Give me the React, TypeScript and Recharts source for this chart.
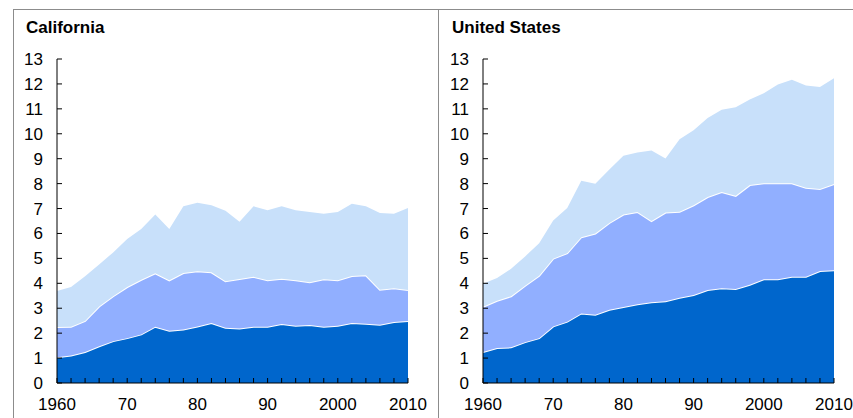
import { Area, AreaChart, XAxis, YAxis } from "recharts";

const years = [
  1960, 1962, 1964, 1966, 1968, 1970, 1972, 1974, 1976, 1978, 1980, 1982, 1984,
  1986, 1988, 1990, 1992, 1994, 1996, 1998, 2000, 2002, 2004, 2006, 2008, 2010,
];

// California, layer values (stacked bottom -> top)
const caBase = [
  1.03, 1.1, 1.24, 1.47, 1.68, 1.8, 1.95, 2.26, 2.1, 2.15, 2.27, 2.41, 2.22,
  2.19, 2.26, 2.26, 2.37, 2.3, 2.33, 2.26, 2.3, 2.41, 2.38, 2.34, 2.45, 2.49,
];
const caMid = [
  1.22, 1.16, 1.25, 1.6, 1.8, 2.05, 2.19, 2.14, 2.02, 2.26, 2.21, 2.03, 1.86,
  1.98, 2.0, 1.86, 1.81, 1.82, 1.71, 1.9, 1.82, 1.88, 1.94, 1.4, 1.35, 1.24,
];
const caTop = [
  1.44, 1.59, 1.79, 1.68, 1.76, 1.93, 2.04, 2.36, 2.06, 2.68, 2.75, 2.69, 2.83,
  2.3, 2.83, 2.81, 2.91, 2.81, 2.82, 2.63, 2.74, 2.9, 2.77, 3.08, 2.99, 3.29,
];

// United States
const usBase = [
  1.24, 1.4, 1.43, 1.64, 1.8, 2.27, 2.46, 2.79, 2.74, 2.94, 3.05, 3.16, 3.24,
  3.28, 3.42, 3.53, 3.73, 3.8, 3.77, 3.94, 4.16, 4.16, 4.26, 4.26, 4.49, 4.52,
];
const usMid = [
  1.82, 1.9, 2.05, 2.26, 2.5, 2.72, 2.75, 3.06, 3.26, 3.48, 3.71, 3.7, 3.26,
  3.56, 3.45, 3.6, 3.73, 3.86, 3.74, 4.0, 3.85, 3.85, 3.75, 3.57, 3.29, 3.46,
];
const usTop = [
  0.92, 0.91, 1.1, 1.18, 1.31, 1.53, 1.81, 2.27, 1.99, 2.15, 2.36, 2.39, 2.83,
  2.17, 2.91, 3.01, 3.17, 3.3, 3.55, 3.44, 3.62, 3.97, 4.16, 4.11, 4.1, 4.25,
];

const yTicks = [0, 1, 2, 3, 4, 5, 6, 7, 8, 9, 10, 11, 12, 13];

const FONT = "'Liberation Sans', Arial, sans-serif";

function yearLabel(v: number) {
  if (v === 1960 || v === 2000 || v === 2010) return String(v);
  if (v % 10 === 0) return String(v % 100);
  return "";
}

function Panel({
  title,
  base,
  mid,
  top,
  left,
}: {
  title: string;
  base: number[];
  mid: number[];
  top: number[];
  left: number;
}) {
  const data = years.map((y, i) => ({ year: y, base: base[i], mid: mid[i], top: top[i] }));
  return (
    <div style={{ position: "absolute", left, top: 0, width: 440, height: 418 }}>
      <div
        style={{
          position: "absolute",
          left: 26,
          top: 18,
          fontFamily: FONT,
          fontWeight: "bold",
          fontSize: 17,
          color: "#000",
          whiteSpace: "nowrap",
        }}
      >
        {title}
      </div>
      <AreaChart
        width={440}
        height={418}
        data={data}
        margin={{ top: 59, right: 32, left: 0, bottom: 0 }}
      >
        <XAxis
          dataKey="year"
          type="number"
          domain={[1960, 2010]}
          ticks={years}
          interval={0}
          tickFormatter={yearLabel}
          height={35}
          stroke="#000"
          tickSize={-5}
          tickMargin={20}
          tick={{ fill: "#000", fontSize: 17, fontFamily: FONT }}
        />
        <YAxis
          type="number"
          domain={[0, 13]}
          ticks={yTicks}
          interval={0}
          width={57}
          stroke="#000"
          tickSize={-5}
          tickMargin={19}
          tick={{ fill: "#000", fontSize: 17, fontFamily: FONT }}
        />
        <Area
          dataKey="base"
          stackId="a"
          type="linear"
          fill="#0066cc"
          fillOpacity={1}
          stroke="#ffffff"
          strokeWidth={2}
          isAnimationActive={false}
        />
        <Area
          dataKey="mid"
          stackId="a"
          type="linear"
          fill="#91afff"
          fillOpacity={1}
          stroke="#ffffff"
          strokeWidth={2}
          isAnimationActive={false}
        />
        <Area
          dataKey="top"
          stackId="a"
          type="linear"
          fill="#c8e0fa"
          fillOpacity={1}
          stroke="none"
          isAnimationActive={false}
        />
      </AreaChart>
    </div>
  );
}

export default function App() {
  return (
    <div
      style={{
        position: "fixed",
        left: 0,
        top: 0,
        width: 853,
        height: 418,
        overflow: "hidden",
        background: "#fff",
      }}
    >
      <Panel title="California" base={caBase} mid={caMid} top={caTop} left={0} />
      <Panel title="United States" base={usBase} mid={usMid} top={usTop} left={426} />
      <div style={{ position: "absolute", left: 13, top: 9, width: 900, height: 1, background: "#8c8c8c" }} />
      <div style={{ position: "absolute", left: 13, top: 9, width: 1, height: 420, background: "#8c8c8c" }} />
      <div style={{ position: "absolute", left: 438, top: 9, width: 1, height: 420, background: "#8c8c8c" }} />
    </div>
  );
}
